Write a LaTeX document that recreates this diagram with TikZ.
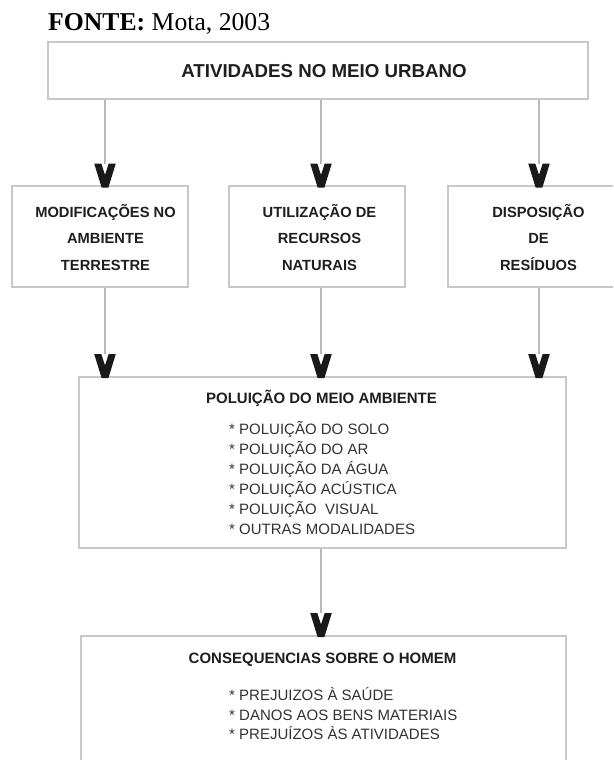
\documentclass[tikz,border=0pt]{standalone}
\usepackage{fontspec}
\setmainfont{Liberation Serif}
\newfontfamily\arial{Liberation Sans}
\definecolor{boxgray}{RGB}{200,200,200}
\definecolor{linegray}{RGB}{185,185,185}
\definecolor{vblack}{RGB}{25,25,25}
\definecolor{txtdark}{RGB}{30,30,30}
\definecolor{txtitem}{RGB}{50,50,50}
\begin{document}
\begin{tikzpicture}[x=1pt,y=-1pt,
  box/.style={draw=boxgray, line width=1.3pt, fill=white, inner sep=0pt},
  conn/.style={draw=linegray, line width=1.1pt},
  vhead/.pic={\fill[vblack] (-10.8,-24) -- (-3.7,-24) -- (0,-12.5) -- (3.7,-24)
     -- (10.8,-24) -- (3.4,0) -- (-3.4,0) -- cycle;},
  bigttl/.style={inner sep=0pt, anchor=base, text=txtdark,
    font=\arial\bfseries\fontsize{18.7}{22}\selectfont},
  midttl/.style={inner sep=0pt, anchor=base, text=txtdark,
    font=\arial\bfseries\fontsize{14.7}{18}\selectfont},
  ttl/.style={inner sep=0pt, anchor=base, text=txtdark,
    font=\arial\bfseries\fontsize{15}{18}\selectfont},
  itemtxt/.style={inner sep=0pt, anchor=base west, text=txtitem,
    font=\arial\fontsize{15}{18}\selectfont}
]
\clip (0,0) rectangle (613,760);
\fill[white] (0,0) rectangle (613,760);

% source
\node[inner sep=0pt, anchor=base west, font=\fontsize{25.7}{28}\selectfont] (src) at (48,31)
  {\textbf{FONTE:} Mota, 2003};

% top box
\node[box, minimum width=540, minimum height=57] (top) at (318,70.5) {};
\node[bigttl] (toptxt) at (324,77.7) {ATIVIDADES NO MEIO URBANO};

% second row boxes
\node[box, minimum width=176, minimum height=101] (b1) at (100,236.5) {};
\node[box, minimum width=176, minimum height=101] (b2) at (317,236.5) {};
\node[box, minimum width=172, minimum height=101] (b3) at (534,236.5) {};

\node[midttl] (t1a) at (105.5,217.3) {MODIFICAÇÕES NO};
\node[midttl] (t1b) at (105.5,243.3) {AMBIENTE};
\node[midttl] (t1c) at (105.5,270.3) {TERRESTRE};
\node[midttl] (t2a) at (319.5,217.3) {UTILIZAÇÃO DE};
\node[midttl] (t2b) at (319.5,243.3) {RECURSOS};
\node[midttl] (t2c) at (319.5,270.3) {NATURAIS};
\node[midttl] (t3a) at (538.5,217.3) {DISPOSIÇÃO};
\node[midttl] (t3b) at (538.5,243.3) {DE};
\node[midttl] (t3c) at (538.5,270.3) {RESÍDUOS};

% pollution box
\node[box, minimum width=487, minimum height=171] (pol) at (322.5,462.5) {};
\node[ttl] (poltxt) at (321.5,403.4) {POLUIÇÃO DO MEIO AMBIENTE};
\node[itemtxt] (p1) at (229,434.4) {* POLUIÇÃO DO SOLO};
\node[itemtxt] (p2) at (229,454.4) {* POLUIÇÃO DO AR};
\node[itemtxt] (p3) at (229,474.4) {* POLUIÇÃO DA ÁGUA};
\node[itemtxt] (p4) at (229,494.4) {* POLUIÇÃO ACÚSTICA};
\node[itemtxt] (p5) at (229,514.4) {* POLUIÇÃO\ \ VISUAL};
\node[itemtxt] (p6) at (229,534.4) {* OUTRAS MODALIDADES};

% consequences box
\node[box, minimum width=485, minimum height=160] (con) at (323.5,716) {};
\node[ttl] (contxt) at (322.5,663.4) {CONSEQUENCIAS SOBRE O HOMEM};
\node[itemtxt] (c1) at (229,700.4) {* PREJUIZOS À SAÚDE};
\node[itemtxt] (c2) at (229,720.2) {* DANOS AOS BENS MATERIAIS};
\node[itemtxt] (c3) at (229,739.6) {* PREJUÍZOS ÀS ATIVIDADES};

% arrow heads (V): tip points and tops
\coordinate (v1) at (105,187.5);  \coordinate (v1t) at (105,163.5);
\coordinate (v2) at (321,187.5);  \coordinate (v2t) at (321,163.5);
\coordinate (v3) at (539,187.5);  \coordinate (v3t) at (539,163.5);
\coordinate (w1) at (105,378);    \coordinate (w1t) at (105,354);
\coordinate (w2) at (321,378);    \coordinate (w2t) at (321,354);
\coordinate (w3) at (539,378);    \coordinate (w3t) at (539,354);
\coordinate (u1) at (321,637);    \coordinate (u1t) at (321,613);

% connectors
\draw[conn] (top.south -| v1t) -- (v1t);
\draw[conn] (top.south -| v2t) -- (v2t);
\draw[conn] (top.south -| v3t) -- (v3t);
\draw[conn] (b1.south -| w1t) -- (w1t);
\draw[conn] (b2.south -| w2t) -- (w2t);
\draw[conn] (b3.south -| w3t) -- (w3t);
\draw[conn] (pol.south -| u1t) -- (u1t);

\foreach \h in {v1,v2,v3,w1,w2,w3,u1} { \pic at (\h) {vhead}; }
\end{tikzpicture}
\end{document}
